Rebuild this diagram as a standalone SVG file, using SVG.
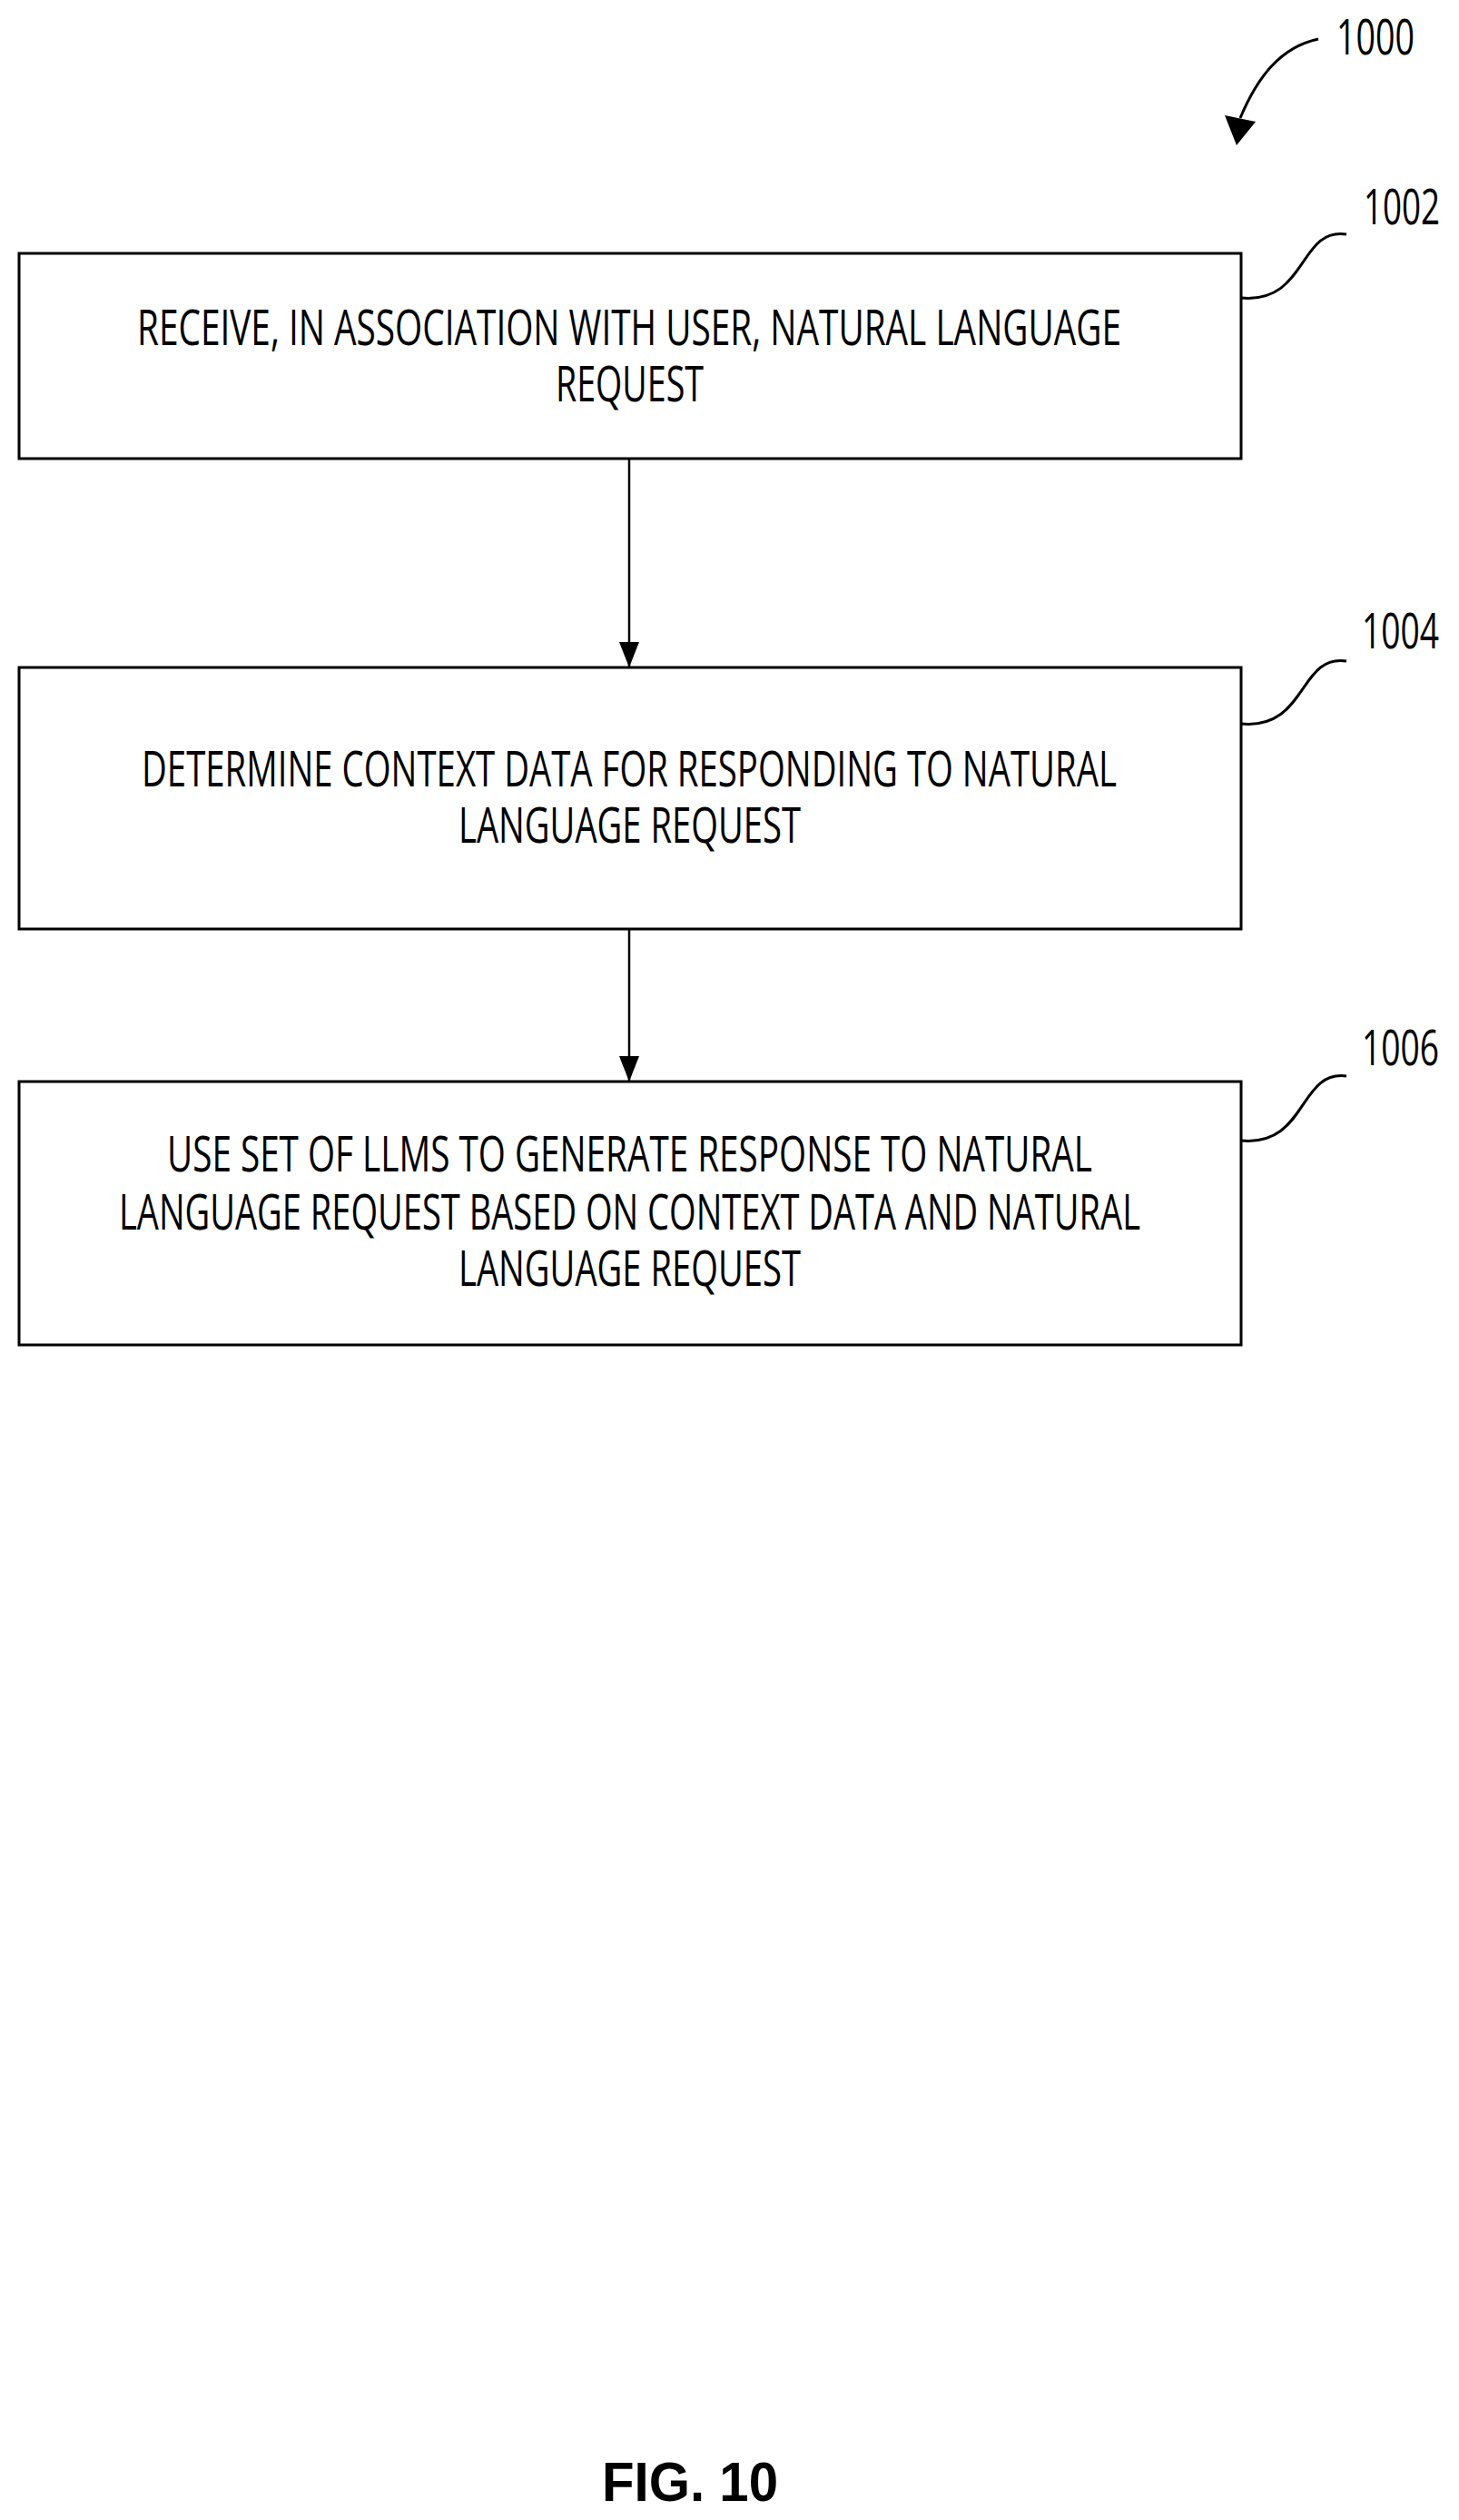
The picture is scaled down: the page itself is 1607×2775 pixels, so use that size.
<svg xmlns="http://www.w3.org/2000/svg" width="1607" height="2775" viewBox="0 0 1607 2775">
<style>
.box{fill:#fff;stroke:#000;stroke-width:3}
.t{font-family:"Open Sans","DejaVu Sans",sans-serif;font-size:54px;fill:#000}
.lead{fill:none;stroke:#000;stroke-width:3}
.conn{stroke:#000;stroke-width:2.5;fill:none}
</style>
<defs>
<marker id="ah" markerWidth="28" markerHeight="22" refX="28" refY="11" orient="auto" markerUnits="userSpaceOnUse" viewBox="0 0 28 22">
<path d="M0,0 L28,11 L0,22 z" fill="#000"/>
</marker>
</defs>
<rect width="1607" height="2775" fill="#fff"/>
<g id="ref1000">
<path class="lead" d="M1452,43 C1410,52 1385,85 1366,130"/>
<polygon points="1349,127 1383,134 1362,160" fill="#000"/>
<text class="t" x="1472" y="60" textLength="86" lengthAdjust="spacingAndGlyphs">1000</text>
</g>
<g id="n1002">
<rect class="box" x="21" y="279" width="1346" height="226"/>
<text class="t" x="151" y="380" textLength="1084" lengthAdjust="spacingAndGlyphs">RECEIVE, IN ASSOCIATION WITH USER, NATURAL LANGUAGE</text>
<text class="t" x="612" y="442" textLength="163" lengthAdjust="spacingAndGlyphs">REQUEST</text>
<path class="lead" d="M1367,328 C1440,335 1430,250 1483,258"/>
<text class="t" x="1502" y="247" textLength="84" lengthAdjust="spacingAndGlyphs">1002</text>
</g>
<g id="n1004">
<rect class="box" x="21" y="735" width="1346" height="288"/>
<text class="t" x="156" y="866" textLength="1074" lengthAdjust="spacingAndGlyphs">DETERMINE CONTEXT DATA FOR RESPONDING TO NATURAL</text>
<text class="t" x="505" y="928" textLength="377" lengthAdjust="spacingAndGlyphs">LANGUAGE REQUEST</text>
<path class="lead" d="M1367,797 C1440,804 1430,720 1483,728"/>
<text class="t" x="1500" y="714" textLength="85" lengthAdjust="spacingAndGlyphs">1004</text>
</g>
<g id="n1006">
<rect class="box" x="21" y="1191" width="1346" height="290"/>
<text class="t" x="184" y="1290" textLength="1019" lengthAdjust="spacingAndGlyphs">USE SET OF LLMS TO GENERATE RESPONSE TO NATURAL</text>
<text class="t" x="131" y="1354" textLength="1125" lengthAdjust="spacingAndGlyphs">LANGUAGE REQUEST BASED ON CONTEXT DATA AND NATURAL</text>
<text class="t" x="505" y="1416" textLength="377" lengthAdjust="spacingAndGlyphs">LANGUAGE REQUEST</text>
<path class="lead" d="M1367,1256 C1440,1263 1430,1178 1483,1185"/>
<text class="t" x="1500" y="1173" textLength="85" lengthAdjust="spacingAndGlyphs">1006</text>
</g>
<g id="connectors">
<line class="conn" x1="693" y1="505" x2="693" y2="735" marker-end="url(#ah)"/>
<line class="conn" x1="693" y1="1023" x2="693" y2="1191" marker-end="url(#ah)"/>
</g>
<text x="663" y="2754" font-family="'Liberation Sans',Arial,sans-serif" font-weight="bold" font-size="62" textLength="194" lengthAdjust="spacingAndGlyphs">FIG. 10</text>
</svg>
